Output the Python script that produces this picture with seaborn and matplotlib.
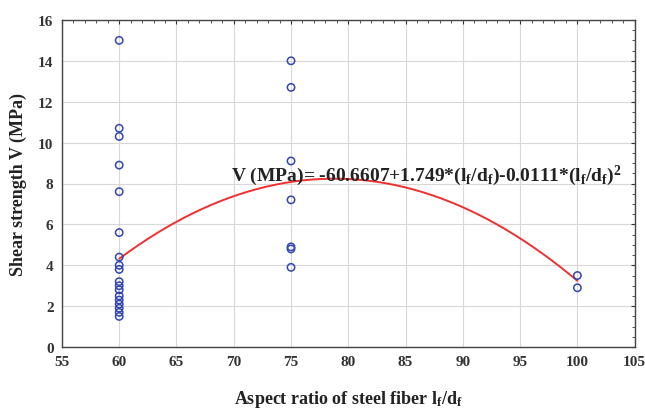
import numpy as np
import pandas as pd
import matplotlib
matplotlib.use("Agg")
import matplotlib.pyplot as plt
from matplotlib.ticker import MultipleLocator
import seaborn as sns

# Measured shear strength by aspect ratio of steel fiber
aspect_60 = [15.0, 10.7, 10.3, 8.9, 7.6, 5.6, 4.4, 4.0, 3.8,
             3.2, 3.0, 2.8, 2.5, 2.3, 2.1, 1.9, 1.7, 1.5]
aspect_75 = [14.0, 12.7, 9.1, 7.2, 4.9, 4.8, 3.9]
aspect_100 = [3.5, 2.9]

# Quadratic regression: V = c0 + c1*x + c2*x^2
coef = [-60.6607, 1.749, -0.0111]
fit_range = [60, 100]

x_ticks = [55, 60, 65, 70, 75, 80, 85, 90, 95, 100, 105]
y_ticks = [0, 2, 4, 6, 8, 10, 12, 14, 16]

points = pd.DataFrame({
    "ratio": [60] * len(aspect_60) + [75] * len(aspect_75) + [100] * len(aspect_100),
    "V": aspect_60 + aspect_75 + aspect_100,
})
xs = np.linspace(fit_range[0], fit_range[1], 200)
curve = pd.DataFrame({"ratio": xs, "V": coef[0] + coef[1] * xs + coef[2] * xs ** 2})

sns.set_style("white")
plt.rcParams["font.family"] = ["Liberation Serif", "DejaVu Serif"]
plt.rcParams["mathtext.fontset"] = "custom"
plt.rcParams["mathtext.rm"] = "Liberation Serif:bold"
plt.rcParams["mathtext.it"] = "Liberation Serif:bold"
plt.rcParams["mathtext.bf"] = "Liberation Serif:bold"

fig = plt.figure(figsize=(6.45, 4.10), dpi=100)
ax = fig.add_axes([0.096, 0.151, 0.888, 0.798])

sns.lineplot(data=curve, x="ratio", y="V", ax=ax, color="#f03030",
             linewidth=1.4, zorder=2)
sns.scatterplot(data=points, x="ratio", y="V", ax=ax, marker="o", s=28,
                facecolor="none", edgecolor="#3346b0", linewidth=1.1, zorder=3)

ax.set_xlim(55, 105)
ax.set_ylim(0, 16)
ax.set_xticks(x_ticks)
ax.set_yticks(y_ticks)
ax.xaxis.set_minor_locator(MultipleLocator(1))
ax.yaxis.set_minor_locator(MultipleLocator(0.5))
ax.tick_params(which="both", direction="in", top=True, right=True,
               colors="#333333", labelcolor="#333333")
ax.tick_params(which="major", length=3, width=0.8, labelsize=11, pad=6)
ax.tick_params(which="minor", length=2, width=0.6)
for lab in ax.get_xticklabels() + ax.get_yticklabels():
    lab.set_fontweight("bold")

ax.grid(True, which="major", color="#d8d8d8", linewidth=0.8)
ax.set_axisbelow(True)
for sp in ax.spines.values():
    sp.set_color("#444444")
    sp.set_linewidth(1.0)

ax.set_xlabel(r"Aspect ratio of steel fiber $\mathregular{l_f/d_f}$",
              fontsize=13, fontweight="bold", color="#222222", labelpad=14)
ax.set_ylabel("Shear strength V (MPa)", fontsize=13, fontweight="bold",
              color="#222222", labelpad=8)

ax.text(69.8, 8.15,
        r"V (MPa)= -60.6607+1.749*($\mathregular{l_f/d_f}$)-0.0111*($\mathregular{l_f/d_f}$)$^{\mathregular{2}}$",
        fontsize=14, fontweight="bold", color="#222222", va="baseline", zorder=4)

fig.savefig("out.png", dpi=100, facecolor="white")
